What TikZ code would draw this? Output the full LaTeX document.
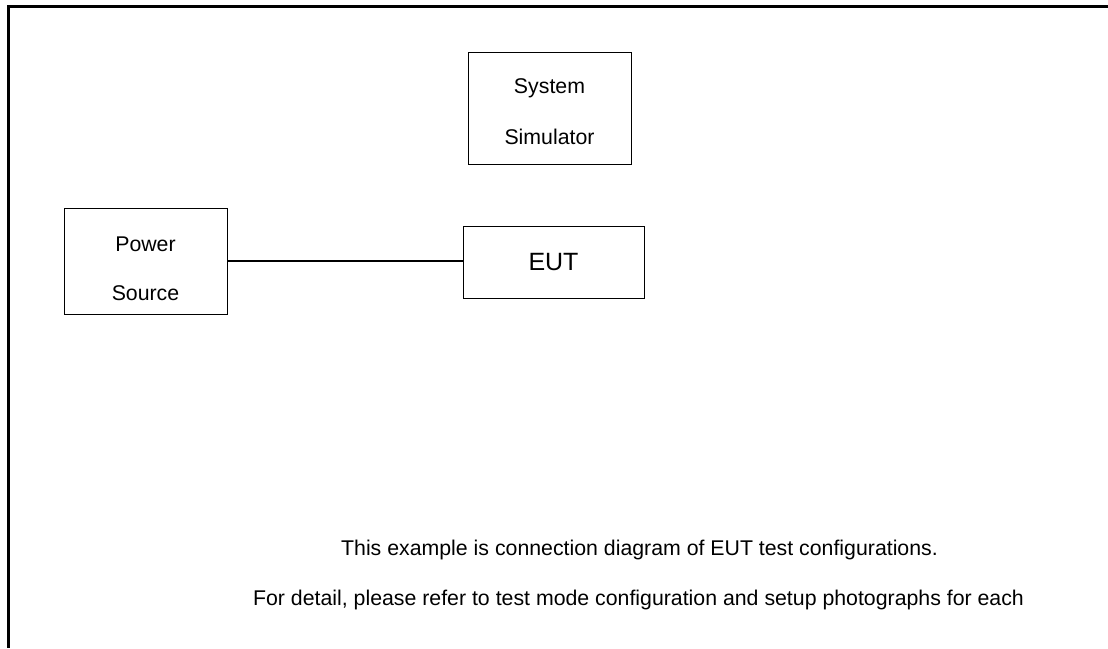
\documentclass[tikz,border=0pt]{standalone}
\usepackage{fontspec}
\setmainfont{Liberation Sans}
\begin{document}
\begin{tikzpicture}[x=1pt,y=-1pt,
  box/.style={draw, line width=1pt, inner sep=0pt, align=center},
  txt/.style={font=\fontsize{21.3}{26}\selectfont},
  conn/.style={line width=1.6pt},
  frame/.style={line width=2.2pt}]
\useasboundingbox (0,0) rectangle (1108,648);
% frame (top and left only)
\coordinate (ftr) at (1108,6.5);
\coordinate (ftl) at (8.5,6.5);
\coordinate (fbl) at (8.5,648);
\draw[frame] (ftr) -- (ftl) -- (fbl);
% boxes
\node[box, minimum width=163pt, minimum height=112pt] (sim) at (549.5,108) {};
\node[txt] (simA) at (549.5,88) {System};
\node[txt] (simB) at (549.5,137) {Simulator};
\node[box, minimum width=163pt, minimum height=106pt] (ps) at (145.5,261) {};
\node[txt] (psA) at (145.5,244) {Power};
\node[txt] (psB) at (145.5,293) {Source};
\node[box, minimum width=181pt, minimum height=72pt, font=\fontsize{25}{30}\selectfont] (eut) at (553.5,262) {EUT};
\draw[conn] (ps.east |- 0,261) -- (eut.west |- 0,261);
% bottom notes
\node[txt] (note1) at (639.5,550) {This example is connection diagram of EUT test configurations.};
\node[txt] (note2) at (638.5,600) {For detail, please refer to test mode configuration and setup photographs for each};
\end{tikzpicture}
\end{document}
